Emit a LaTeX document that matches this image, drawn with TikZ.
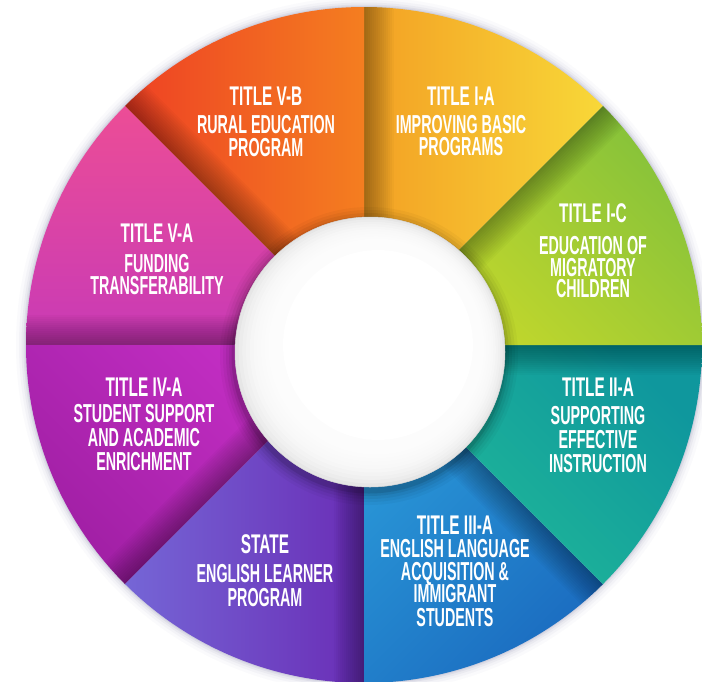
\documentclass[tikz,border=0pt]{standalone}
\usepackage{fontspec}
\newfontfamily\wsub[FakeStretch=0.55]{Liberation Sans}
\newfontfamily\wttl[FakeStretch=0.57]{Liberation Sans}
\usetikzlibrary{calc}
\definecolor{vbL}{HTML}{EE4124}\definecolor{vbR}{HTML}{F47E20}
\definecolor{iaL}{HTML}{F3A024}\definecolor{iaR}{HTML}{F8D838}
\definecolor{icL}{HTML}{86C23A}\definecolor{icR}{HTML}{CADA2A}
\definecolor{iiL}{HTML}{0F979D}\definecolor{iiR}{HTML}{22BC98}
\definecolor{iiiL}{HTML}{2B9CDA}\definecolor{iiiR}{HTML}{1B6CC0}
\definecolor{stL}{HTML}{7566D6}\definecolor{stR}{HTML}{6A2DB6}
\definecolor{ivL}{HTML}{C830C8}\definecolor{ivR}{HTML}{A01FA4}
\definecolor{vaT}{HTML}{EC4D96}\definecolor{vaB}{HTML}{C83AB6}
\tikzset{
  ttl/.style={anchor=base, text=white, inner sep=0pt, text height=19pt, text depth=0pt,
    font=\wttl\bfseries\fontsize{27}{27}\selectfont},
  sub/.style={anchor=base, text=white, inner sep=0pt, text height=18pt, text depth=0pt,
    font=\wsub\bfseries\fontsize{26}{26}\selectfont},
}
\newcommand\wsector[2]{% #1 start angle, #2 shading options
  \shade[#2] (C) -- ++(#1:338) arc[start angle=#1, end angle={#1+45}, radius=338] -- cycle;
  \begin{scope}
    \clip (C) -- ++(#1:338) arc[start angle=#1, end angle={#1+45}, radius=338] -- cycle;
    \foreach \d in {2,4,...,30}
      \fill[black, opacity=0.022] (C) -- ++(#1:350) -- ++({#1+90}:\d) -- ++({#1+180}:350) -- cycle;
  \end{scope}}
\begin{document}
\begin{tikzpicture}[x=1pt,y=-1pt]
\useasboundingbox (0,0) rectangle (702,681);
\fill[white] (0,0) rectangle (702,681);
\coordinate (C) at (364,345);
\coordinate (W) at (370,352);
% outer glow
\foreach \k/\o in {10/0.025,7/0.035,4.5/0.05,2.5/0.07,1/0.09}
  \fill[black!50!blue!40!gray, opacity=\o] (C) circle (338+\k);
% sectors
\wsector{-90}{left color=iaL, right color=iaR}
\wsector{-135}{left color=vbL, right color=vbR}
\wsector{-180}{top color=vaT, bottom color=vaB}
\wsector{-225}{left color=ivL, right color=ivR, shading angle=-45}
\wsector{-270}{left color=stL, right color=stR}
\wsector{-315}{left color=iiiL, right color=iiiR, shading angle=45}
\wsector{-360}{left color=iiL, right color=iiR, shading angle=-45}
\wsector{-45}{left color=icL, right color=icR, shading angle=-45}
% central ball: soft shadow, then layered white disc
\foreach \k/\o in {14/0.03,11/0.04,8/0.05,5/0.07,2.5/0.1}
  \fill[black, opacity=\o] ($(W)+(-1,4)$) circle (135+\k);
\fill[black!13] (W) circle (135);
\foreach \i in {0,...,11}
  \fill[white, opacity=0.25] ($(W)+({0.7*\i},{-0.6*\i})$) circle ({135-3*\i});
\fill[white] ($(W)+(8,-7)$) circle (95);
\draw[black!16, line width=0.5pt] (W) circle (135);
% texts
\node[ttl] (vb1) at (266,105) {TITLE V-B};
\node[sub] (vb2) at (266,133) {RURAL EDUCATION};
\node[sub] (vb3) at (266,156) {PROGRAM};
\node[ttl] (ia1) at (461,105) {TITLE I-A};
\node[sub] (ia2) at (461,133) {IMPROVING BASIC};
\node[sub] (ia3) at (461,155) {PROGRAMS};
\node[ttl] (ic1) at (593,222) {TITLE I-C};
\node[sub] (ic2) at (593,254) {EDUCATION OF};
\node[sub] (ic3) at (593,276) {MIGRATORY};
\node[sub] (ic4) at (593,297) {CHILDREN};
\node[ttl] (ii1) at (598,396) {TITLE II-A};
\node[sub] (ii2) at (598,424) {SUPPORTING};
\node[sub] (ii3) at (598,448) {EFFECTIVE};
\node[sub] (ii4) at (598,472) {INSTRUCTION};
\node[ttl] (iii1) at (455,534) {TITLE III-A};
\node[sub] (iii2) at (455,557) {ENGLISH LANGUAGE};
\node[sub] (iii3) at (455,580) {ACQUISITION \&};
\node[sub] (iii4) at (455,602) {IMMIGRANT};
\node[sub] (iii5) at (455,626) {STUDENTS};
\node[ttl] (st1) at (265,553) {STATE};
\node[sub] (st2) at (265,582) {ENGLISH LEARNER};
\node[sub] (st3) at (265,606) {PROGRAM};
\node[ttl] (iv1) at (144,396) {TITLE IV-A};
\node[sub] (iv2) at (144,422) {STUDENT SUPPORT};
\node[sub] (iv3) at (144,446) {AND ACADEMIC};
\node[sub] (iv4) at (144,470) {ENRICHMENT};
\node[ttl] (va1) at (157,242) {TITLE V-A};
\node[sub] (va2) at (157,272) {FUNDING};
\node[sub] (va3) at (157,294) {TRANSFERABILITY};
\end{tikzpicture}
\end{document}
